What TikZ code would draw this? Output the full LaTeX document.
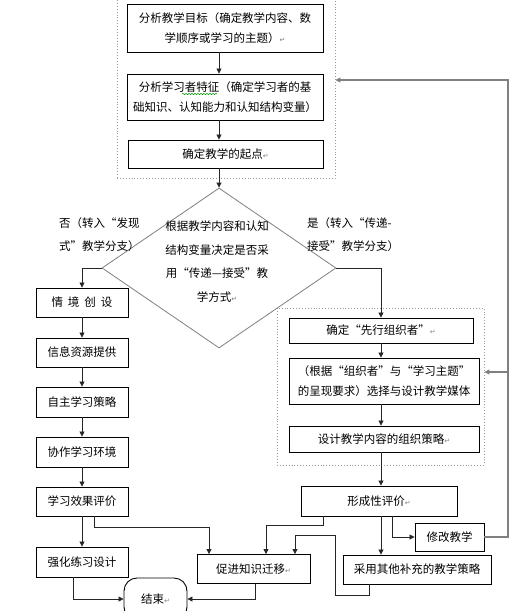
\documentclass[tikz,border=0pt]{standalone}
\usepackage{fontspec}
\setmainfont{Noto Sans CJK SC}
\newfontfamily\symfont{DejaVu Sans}
\usetikzlibrary{arrows.meta,shapes.geometric,decorations.pathmorphing,calc}
\newcommand{\retmark}{{\symfont\color{gray}\fontsize{7}{7}\selectfont ↵}}
\begin{document}
\begin{tikzpicture}[x=1pt,y=-1pt,
  font=\fontsize{11.5}{20}\selectfont,
  box/.style={draw=black, line width=0.9pt, align=center, inner sep=0pt},
  grp/.style={draw=gray!80, dotted, line width=0.9pt, inner sep=0pt},
  arr/.style={-{Triangle[length=5pt,width=5pt]}, line width=0.8pt, draw=black!85},
  fbline/.style={-{Triangle[length=5pt,width=5pt]}, line width=1.3pt, draw=gray},
  lbl/.style={align=left, inner sep=0pt, font=\fontsize{11.5}{23}\selectfont}]
\clip (0,0) rectangle (532,611);
\fill[white] (0,0) rectangle (532,611);

% top group
\node[grp, minimum width=218pt, minimum height=190pt] (topgrp) at (226,83) {};
\node[box, minimum width=196pt, minimum height=48pt] (b1) at (225,28)
  {分析教学目标（确定教学内容、数\\学顺序或学习的主题）\retmark};
\node[box, minimum width=196pt, minimum height=46pt] (b2) at (225,97)
  {分析学习者特征（确定学习者的基\\础知识、认知能力和认知结构变量）};
\node[box, minimum width=195pt, minimum height=28pt] (b3) at (225.5,154)
  {确定教学的起点\retmark};
\draw[green!60!black, line width=0.5pt, decorate, decoration={snake, segment length=3pt, amplitude=0.7pt}]
  (182,94) -- (217,94);

% decision
\node[diamond, draw=gray, line width=0.8pt, minimum width=234pt, minimum height=160pt, inner sep=0pt] (dia) at (219,268) {};
\node[align=center, inner sep=0pt, font=\fontsize{11.5}{23.5}\selectfont] (diat) at (217,261.5)
  {根据教学内容和认知\\结构变量决定是否采\\用“传递—接受”教\\学方式\retmark};
\node[lbl, anchor=west] (lno) at (59,234.5) {否（转入“发现\\式”教学分支）};
\node[lbl, anchor=west] (lyes) at (307,234.5) {是（转入“传递-\\接受”教学分支）};

% left branch
\node[box, minimum width=92pt, minimum height=29pt] (l1) at (82,302.5) {情\hspace{5pt}境\hspace{5pt}创\hspace{5pt}设};
\node[box, minimum width=92pt, minimum height=29pt] (l2) at (82,352.5) {信息资源提供};
\node[box, minimum width=92pt, minimum height=30pt] (l3) at (82,402) {自主学习策略};
\node[box, minimum width=92pt, minimum height=30pt] (l4) at (82,452) {协作学习环境};
\node[box, minimum width=92pt, minimum height=29pt] (l5) at (82,501.5) {学习效果评价};
\node[box, minimum width=92pt, minimum height=30pt] (l6) at (82,562) {强化练习设计};

% right branch
\node[grp, minimum width=207pt, minimum height=157pt] (rgrp) at (380.5,386.5) {};
\node[box, minimum width=184pt, minimum height=25pt] (r1) at (381,330.5) {确定“先行组织者”\retmark};
\node[box, minimum width=190pt, minimum height=46pt] (r2) at (384,381)
  {（根据“组织者”与“学习主题”\\的呈现要求）选择与设计教学媒体};
\node[box, minimum width=190pt, minimum height=26pt] (r3) at (384,439) {设计教学内容的组织策略\retmark};

% bottom
\node[box, minimum width=156pt, minimum height=30pt] (f) at (379,501) {形成性评价\retmark};
\node[box, minimum width=69pt, minimum height=28pt] (m) at (449.5,537) {修改教学};
\node[box, minimum width=148pt, minimum height=29pt] (s) at (417,569.5) {采用其他补充的教学策略};
\node[box, minimum width=113pt, minimum height=29pt] (p) at (253.5,569) {促进知识迁移\retmark};
\node[box, rounded corners=13pt, minimum width=63pt, minimum height=42pt] (e) at (155.5,599) {结束\retmark};

% connectors top
\draw[arr] (b1.south -| dia.north) -- (b2.north -| dia.north);
\draw[arr] (b2.south -| dia.north) -- (b3.north -| dia.north);
\draw[arr] (b3.south -| dia.north) -- (dia.north);
\draw[arr] (dia.west) -| (l1.north);
\draw[arr] (dia.east) -| (r1.north);

% left chain
\draw[arr] (l1) -- (l2);
\draw[arr] (l2) -- (l3);
\draw[arr] (l3) -- (l4);
\draw[arr] (l4) -- (l5);
\draw[arr] (l5) -- (l6);
\draw[arr] ([xshift=12pt]l5.south) -- ++(0,11) -| ([xshift=-44.5pt]p.north);
\draw[arr] ([xshift=-9pt]l6.south) |- (e.west);
\draw[arr] ([xshift=1.5pt]p.south) |- (e.east);

% right chain
\draw[arr] (r1) -- (r1 |- r2.north);
\draw[arr] (r1 |- r2.south) -- (r1 |- r3.north);
\draw[arr] (r1 |- r3.south) -- (r1 |- f.north);
\draw[arr] ([xshift=-56pt]f.south) -- ++(0,9) -| ([xshift=12.5pt]p.north);
\draw[arr] ([xshift=2pt]f.south) -- ([xshift=2pt]f.south |- s.north);
\draw[arr] ([xshift=13pt]f.south) |- (m.west);
\draw[arr] ([xshift=-48pt]s.south) -- ++(0,11) -- ++(-34,0) -- ++(0,-60) -| ([xshift=41.5pt]p.north);

% feedback
\coordinate (fb) at (508,80);
\coordinate (fb2) at (508,372);
\draw[fbline] (m.east) -| (fb) -- (fb -| topgrp.east);
\draw[fbline] (fb2) -- (fb2 -| rgrp.east);
\end{tikzpicture}
\end{document}
